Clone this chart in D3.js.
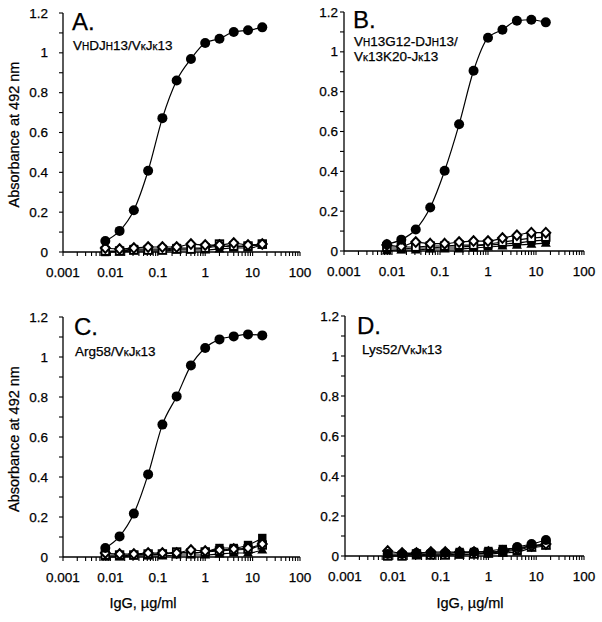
<!DOCTYPE html>
<html><head><meta charset="utf-8">
<script src="https://cdn.jsdelivr.net/npm/d3@7"></script>
<style>body{margin:0;background:#fff}svg{display:block}text{font-family:"Liberation Sans",Arial,sans-serif;fill:#000;stroke:#000;stroke-width:0.25}</style>
</head><body><svg id="c" width="602" height="622"></svg>
<script>
// IgG concentrations (µg/ml), twofold dilutions from 16
const conc = [0.0078125, 0.015625, 0.03125, 0.0625, 0.125, 0.25, 0.5, 1, 2, 4, 8, 16];
const xTicks = [0.001, 0.01, 0.1, 1, 10, 100];
const xTickLabels = ["0.001", "0.01", "0.1", "1", "10", "100"];
const yTicks = [0, 0.2, 0.4, 0.6, 0.8, 1, 1.2];
const yTickLabels = ["0", "0.2", "0.4", "0.6", "0.8", "1", "1.2"];

// Panel A
const A_circle   = [0.055, 0.106, 0.21, 0.408, 0.672, 0.861, 0.969, 1.049, 1.071, 1.105, 1.113, 1.128];
const A_diamond  = [0.02, 0.015, 0.02, 0.025, 0.025, 0.025, 0.04, 0.035, 0.035, 0.045, 0.035, 0.04];
const A_openSq   = [0.005, 0.005, 0.01, 0.01, 0.01, 0.015, 0.015, 0.02, 0.04, 0.03, 0.03, 0.04];
const A_fillSq   = [0.0, 0.005, 0.015, 0.015, 0.015, 0.02, 0.02, 0.02, 0.03, 0.025, 0.03, 0.04];
const A_triangle = [0.0, 0.0, 0.005, 0.005, 0.005, 0.01, 0.01, 0.01, 0.015, 0.02, 0.02, 0.035];
// Panel B
const B_circle   = [0.034, 0.057, 0.108, 0.218, 0.403, 0.636, 0.905, 1.071, 1.111, 1.156, 1.161, 1.148];
const B_diamond  = [0.03, 0.023, 0.045, 0.037, 0.037, 0.045, 0.05, 0.05, 0.065, 0.079, 0.092, 0.092];
const B_openSq   = [0.02, 0.02, 0.02, 0.025, 0.025, 0.03, 0.03, 0.035, 0.045, 0.055, 0.065, 0.07];
const B_fillSq   = [0.01, 0.01, 0.015, 0.015, 0.02, 0.02, 0.025, 0.03, 0.035, 0.04, 0.05, 0.055];
const B_triangle = [0.0, 0.005, 0.005, 0.01, 0.01, 0.01, 0.015, 0.02, 0.025, 0.03, 0.035, 0.04];
// Panel C
const C_circle   = [0.045, 0.103, 0.217, 0.413, 0.662, 0.803, 0.958, 1.045, 1.088, 1.103, 1.113, 1.108];
const C_diamond  = [0.02, 0.015, 0.015, 0.02, 0.02, 0.02, 0.035, 0.03, 0.035, 0.04, 0.045, 0.065];
const C_openSq   = [0.01, 0.01, 0.01, 0.015, 0.015, 0.025, 0.02, 0.025, 0.03, 0.035, 0.04, 0.06];
const C_fillSq   = [0.005, 0.005, 0.01, 0.01, 0.015, 0.02, 0.02, 0.025, 0.045, 0.045, 0.06, 0.095];
const C_triangle = [0.0, 0.0, 0.005, 0.005, 0.005, 0.01, 0.01, 0.01, 0.015, 0.02, 0.02, 0.035];
// Panel D
const D_circle   = [0.01, 0.01, 0.015, 0.015, 0.015, 0.015, 0.02, 0.02, 0.025, 0.045, 0.06, 0.08];
const D_diamond  = [0.025, 0.015, 0.015, 0.02, 0.02, 0.02, 0.02, 0.02, 0.025, 0.035, 0.05, 0.06];
const D_openSq   = [0.0, 0.0, 0.01, 0.005, 0.005, 0.01, 0.01, 0.015, 0.02, 0.03, 0.045, 0.055];
const D_fillSq   = [0.005, 0.005, 0.01, 0.01, 0.01, 0.02, 0.02, 0.025, 0.035, 0.04, 0.05, 0.06];
const D_triangle = [0.0, 0.0, 0.0, 0.005, 0.005, 0.005, 0.01, 0.01, 0.015, 0.02, 0.04, 0.05];

const panelLetters = ["A.", "B.", "C.", "D."];
const yTitle = "Absorbance at 492 nm";
const xTitle = "IgG, µg/ml";

const svg = d3.select("#c");

// subtitle segments: [text, small?]
const subtitles = [
  [[["V",0],["H",1],["DJ",0],["H",1],["13/V",0],["κ",1],["J",0],["κ",1],["13",0]]],
  [[["V",0],["H",1],["13G12-DJ",0],["H",1],["13/",0]],[["V",0],["κ",1],["13K20-J",0],["κ",1],["13",0]]],
  [[["Arg58/V",0],["κ",1],["J",0],["κ",1],["13",0]]],
  [[["Lys52/V",0],["κ",1],["J",0],["κ",1],["13",0]]]
];

const panels = [
  {x0:63, x1:300, y0:252, y1:13, lblGap:15, series:[A_triangle,A_fillSq,A_openSq,A_diamond,A_circle], letterX:72, letterY:30, subX:73, subY:[50], yTitle:true, xTitleX:null},
  {x0:344, x1:584, y0:251, y1:12, lblGap:6, series:[B_triangle,B_fillSq,B_openSq,B_diamond,B_circle], letterX:353, letterY:28, subX:354, subY:[46,61], yTitle:false, xTitleX:null},
  {x0:63, x1:300, y0:557, y1:317, lblGap:15, series:[C_triangle,C_fillSq,C_openSq,C_diamond,C_circle], letterX:74, letterY:335, subX:75, subY:[356], yTitle:true, xTitleX:143},
  {x0:345, x1:584, y0:556, y1:316, lblGap:6, series:[D_triangle,D_fillSq,D_openSq,D_diamond,D_circle], letterX:357, letterY:334, subX:362, subY:[354], yTitle:false, xTitleX:470}
];
const markerTypes = ["triangle","fillSq","openSq","diamond","circle"];

panels.forEach((p, i) => {
  const x = d3.scaleLog().domain([0.001, 100]).range([p.x0, p.x1]);
  const y = d3.scaleLinear().domain([0, 1.2]).range([p.y0, p.y1]);
  const g = svg.append("g");

  // y axis
  g.append("line").attr("x1", p.x0).attr("x2", p.x0).attr("y1", y(0)).attr("y2", y(1.2)).attr("stroke", "#000").attr("stroke-width", 1.3);
  d3.range(0, 13).forEach(k => {
    const v = k / 10;
    g.append("line").attr("x1", p.x0).attr("x2", p.x0 - 4).attr("y1", y(v)).attr("y2", y(v)).attr("stroke", "#000").attr("stroke-width", 1.1);
  });
  yTicks.forEach((v, k) => {
    g.append("text").attr("x", p.x0 - p.lblGap).attr("y", y(v) + 4.5).attr("text-anchor", "end")
      .attr("font-size", 13.5).text(yTickLabels[k]);
  });

  // x axis
  g.append("line").attr("x1", p.x0).attr("x2", p.x1).attr("y1", p.y0).attr("y2", p.y0).attr("stroke", "#000").attr("stroke-width", 1.3);
  const minor = [];
  [0.001, 0.01, 0.1, 1, 10].forEach(d => { for (let m = 1; m <= 9; m++) minor.push(d * m); });
  minor.push(100);
  minor.forEach(v => {
    g.append("line").attr("x1", x(v)).attr("x2", x(v)).attr("y1", p.y0).attr("y2", p.y0 + 4).attr("stroke", "#000").attr("stroke-width", 1.1);
  });
  xTicks.forEach((v, k) => {
    g.append("text").attr("x", x(v)).attr("y", p.y0 + 25).attr("text-anchor", "middle")
      .attr("font-size", 13.5).text(xTickLabels[k]);
  });

  // titles
  if (p.yTitle) {
    const cy = (p.y0 + p.y1) / 2 + 2;
    g.append("text").attr("transform", `translate(19,${cy}) rotate(-90)`).attr("text-anchor", "middle")
      .attr("font-size", 14.5).text(yTitle);
  }
  if (p.xTitleX !== null) {
    g.append("text").attr("x", p.xTitleX).attr("y", 608).attr("text-anchor", "middle")
      .attr("font-size", 14.5).text(xTitle);
  }

  // panel letter and subtitle
  g.append("text").attr("x", p.letterX).attr("y", p.letterY).attr("font-size", 24).text(panelLetters[i]);
  subtitles[i].forEach((line, li) => {
    const t = g.append("text").attr("x", p.subX).attr("y", p.subY[li]).attr("font-size", 13.5);
    line.forEach(([s, small]) => t.append("tspan").attr("font-size", small ? 10 : 13.5).text(s));
  });

  // series
  const line = d3.line().x((d, j) => x(conc[j])).y(d => y(d)).curve(d3.curveMonotoneX);
  p.series.forEach(vals => {
    g.append("path").attr("d", line(vals)).attr("fill", "none").attr("stroke", "#000").attr("stroke-width", 1.2);
  });
  p.series.forEach((vals, si) => {
    const type = markerTypes[si];
    vals.forEach((v, j) => {
      const cx = x(conc[j]), cy = y(v);
      if (type === "circle") {
        g.append("circle").attr("cx", cx).attr("cy", cy).attr("r", 5).attr("fill", "#000");
      } else if (type === "diamond") {
        g.append("path").attr("d", `M${cx},${cy-4.8}L${cx+4.5},${cy}L${cx},${cy+4.8}L${cx-4.5},${cy}Z`)
          .attr("fill", "#fff").attr("stroke", "#000").attr("stroke-width", 2);
      } else if (type === "openSq") {
        g.append("rect").attr("x", cx - 3.8).attr("y", cy - 3.8).attr("width", 7.6).attr("height", 7.6)
          .attr("fill", "#fff").attr("stroke", "#000").attr("stroke-width", 1.8);
      } else if (type === "fillSq") {
        g.append("rect").attr("x", cx - 4.2).attr("y", cy - 4.2).attr("width", 8.4).attr("height", 8.4).attr("fill", "#000");
      } else {
        g.append("path").attr("d", `M${cx},${cy-5}L${cx+5},${cy+3.6}L${cx-5},${cy+3.6}Z`).attr("fill", "#000");
      }
    });
  });
});
</script></body></html>
